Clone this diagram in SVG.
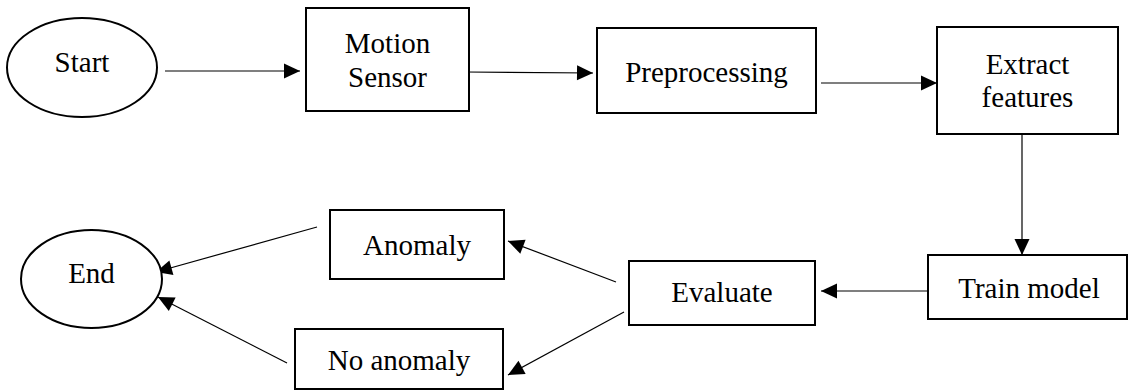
<svg xmlns="http://www.w3.org/2000/svg" width="1128" height="390" viewBox="0 0 1128 390">
  <style>
    .box { fill: #ffffff; stroke: #000000; stroke-width: 2; }
    .term { fill: #ffffff; stroke: #000000; stroke-width: 2; }
    .label { font-family: 'Liberation Serif', 'Times New Roman', Times, 'DejaVu Serif', serif; font-size: 29px; fill: #000000; text-anchor: middle; }
    .edge { fill: none; stroke: #000000; stroke-width: 1.2; marker-end: url(#arrow); }
  </style>
  <defs>
    <marker id="arrow" markerUnits="userSpaceOnUse" markerWidth="16" markerHeight="15" refX="16" refY="7.5" orient="auto" overflow="visible">
      <path d="M0,0 L16,7.5 L0,15 Z" fill="#000000"/>
    </marker>
  </defs>

  <rect width="1128" height="390" fill="#ffffff"/>

  <g id="connectors">
    <line class="edge" x1="165" y1="71" x2="300" y2="71"/>
    <line class="edge" x1="466" y1="72" x2="593" y2="73"/>
    <line class="edge" x1="821" y1="83" x2="937" y2="83"/>
    <line class="edge" x1="1022" y1="124" x2="1022" y2="255"/>
    <line class="edge" x1="931" y1="291" x2="821" y2="291"/>
    <line class="edge" x1="616" y1="282" x2="508" y2="241"/>
    <line class="edge" x1="624" y1="312" x2="508" y2="375"/>
    <line class="edge" x1="317" y1="227" x2="156" y2="272"/>
    <line class="edge" x1="287" y1="363" x2="158" y2="297"/>
  </g>

  <g font-family="Liberation Serif, Times New Roman, serif">
    <g id="start">
      <ellipse class="term" cx="82" cy="67.5" rx="75" ry="49.5"/>
      <text class="label" x="82" y="72">Start</text>
    </g>

    <g id="motion-sensor">
      <rect class="box" x="306" y="8" width="163" height="103"/>
      <text class="label" x="387.5" y="53">Motion</text>
      <text class="label" x="387.5" y="87">Sensor</text>
    </g>

    <g id="preprocessing">
      <rect class="box" x="597" y="28" width="219" height="85"/>
      <text class="label" x="706.5" y="82">Preprocessing</text>
    </g>

    <g id="extract-features">
      <rect class="box" x="937" y="27" width="181" height="107"/>
      <text class="label" x="1027.5" y="74">Extract</text>
      <text class="label" x="1027.5" y="107">features</text>
    </g>

    <g id="train-model">
      <rect class="box" x="928" y="255" width="199" height="64"/>
      <text class="label" x="1029" y="298">Train model</text>
    </g>

    <g id="evaluate">
      <rect class="box" x="629" y="261" width="186" height="64"/>
      <text class="label" x="722" y="302">Evaluate</text>
    </g>

    <g id="anomaly">
      <rect class="box" x="330" y="210" width="174" height="69"/>
      <text class="label" x="417" y="255">Anomaly</text>
    </g>

    <g id="no-anomaly">
      <rect class="box" x="295" y="329" width="208" height="60"/>
      <text class="label" x="399" y="370">No anomaly</text>
    </g>

    <g id="end">
      <ellipse class="term" cx="91.5" cy="279" rx="70.5" ry="49"/>
      <text class="label" x="91.5" y="283">End</text>
    </g>
  </g>
</svg>
